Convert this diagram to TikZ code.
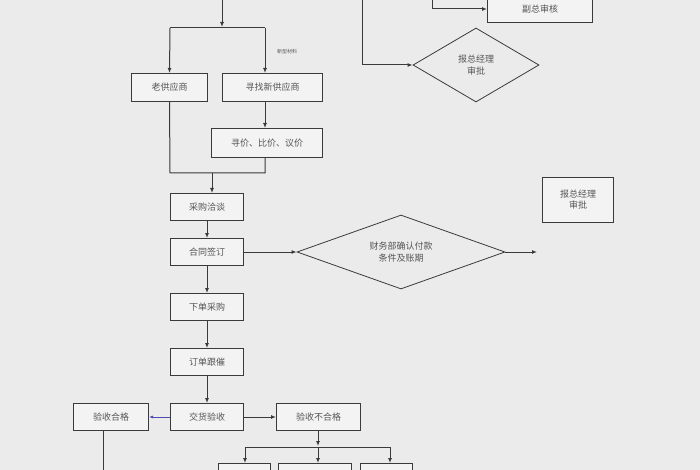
\documentclass[tikz,border=0pt]{standalone}
\usepackage{fontspec}
\setmainfont{Noto Sans CJK SC}
\usetikzlibrary{shapes.geometric,arrows.meta}
\definecolor{bg}{HTML}{EBEBEB}
\definecolor{ln}{HTML}{3A3A3A}
\definecolor{tx}{HTML}{555555}
\begin{document}
\begin{tikzpicture}[x=1pt,y=-1pt,
  box/.style={draw=ln,line width=1pt,fill=bg!60!white,text=tx,font=\fontsize{9}{11}\selectfont,inner sep=0pt,anchor=north west},
  dia/.style={diamond,draw=ln,line width=0.8pt,fill=bg,text=tx,font=\fontsize{9}{12}\selectfont,align=center,inner sep=0pt},
  ar/.style={draw=ln,line width=1pt,-{Latex[length=5pt,width=4pt]}},
  li/.style={draw=ln,line width=1pt}]
\fill[bg] (0,0) rectangle (700,470);
\useasboundingbox (0,0) rectangle (700,470);
% boxes
\node[box,minimum width=76,minimum height=28] (lao) at (131,73) {老供应商};
\node[box,minimum width=100,minimum height=28] (xin) at (222,73) {寻找新供应商};
\node[box,minimum width=111,minimum height=29] (xj) at (211,128) {寻价、比价、议价};
\node[box,minimum width=73,minimum height=27] (qt) at (170,193) {采购洽谈};
\node[box,minimum width=73,minimum height=27] (ht) at (170,238) {合同签订};
\node[box,minimum width=73,minimum height=27] (xd) at (170,293) {下单采购};
\node[box,minimum width=73,minimum height=27] (gc) at (170,348) {订单跟催};
\node[box,minimum width=73,minimum height=27] (jh) at (170,403) {交货验收};
\node[box,minimum width=84,minimum height=27] (bhg) at (276,403) {验收不合格};
\node[box,minimum width=75,minimum height=27] (hg) at (73,403) {验收合格};
\node[box,minimum width=71,minimum height=45,align=center] (zj) at (542,177) {报总经理\\审批};
\node[box,minimum width=105,minimum height=27] (fz) at (487,-5) {副总审核};
\node[box,minimum width=52,minimum height=20] (b1) at (218,463) {};
\node[box,minimum width=73,minimum height=20] (b2) at (278,463) {};
\node[box,minimum width=52,minimum height=20] (b3) at (360,463) {};
\node[dia,minimum width=208,minimum height=74,aspect=2.8] (cw) at (401,252) {财务部确认付款\\条件及账期};
\node[dia,minimum width=126,minimum height=74,aspect=1.7] (zd) at (476,65) {报总经理\\审批};
\node[text=tx,font=\fontsize{5}{6}\selectfont] (xx) at (287,52) {新型材料};
\coordinate (top) at (222,-2);
\coordinate (t1) at (362,-2);
\coordinate (t2) at (432,-2);
\coordinate (cwe) at (537,252);
\coordinate (hgd) at (103,472);
% connectors
\draw[ar] (top) -- (222,27);
\draw[li] (170,28) -- (265,28);
\draw[ar] (170,28) -- (lao.north);
\draw[ar] (265,28) -- (xin.north -| 265,0);
\draw[ar] (xin.south -| 265,0) -- (xj.north -| 265,0);
\draw[li] (lao.south) -- (170,173) -- (265,173) -- (xj.south -| 265,0);
\draw[ar] (212,173) -- (qt.north -| 212,0);
\draw[ar] (qt) -- (ht);
\draw[ar] (ht) -- (cw);
\draw[ar] (cw) -- (cwe);
\draw[ar] (ht) -- (xd);
\draw[ar] (xd) -- (gc);
\draw[ar] (gc) -- (jh);
\draw[ar] (jh) -- (bhg);
\draw[draw=blue!40!gray,line width=0.8pt,-{Latex[length=4pt,width=3pt]}] (jh) -- (hg);
\draw[li] (hg.south -| hgd) -- (hgd);
\draw[ar] (bhg.south -| 318,0) -- (318,446);
\draw[li] (245,447) -- (390,447);
\draw[ar] (245,447) -- (b1.north -| 245,0);
\draw[ar] (318,447) -- (b2.north -| 318,0);
\draw[ar] (390,447) -- (b3.north -| 390,0);
\draw[ar] (t1) -- (362,65) -- (zd.west);
\draw[ar] (t2) -- (432,9) -- (fz.west |- 0,9);
\end{tikzpicture}
\end{document}
